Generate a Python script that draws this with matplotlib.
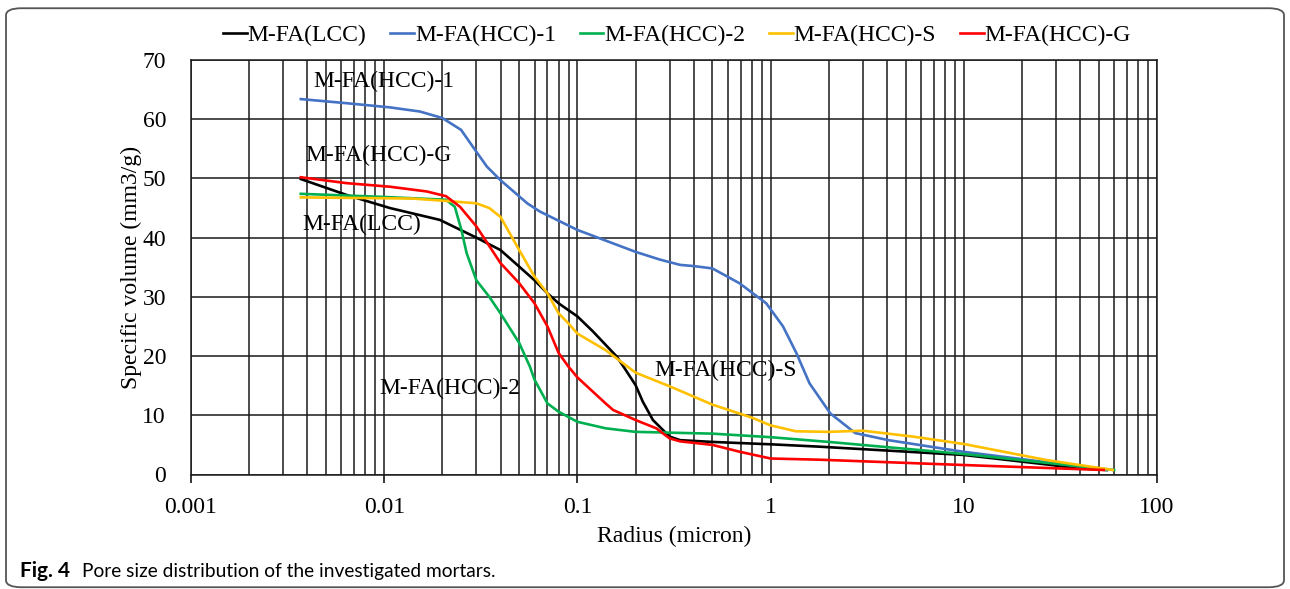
import matplotlib
matplotlib.use("Agg")
import matplotlib.pyplot as plt
from matplotlib.patches import FancyBboxPatch
from matplotlib.ticker import FixedLocator, FuncFormatter, NullFormatter

plt.rcParams['font.family'] = 'Liberation Serif'

# mercury intrusion results: radius (micron) vs cumulative specific volume (mm3/g)
r_lcc = [0.0037, 0.0064, 0.0107, 0.0194, 0.030, 0.040, 0.050, 0.060, 0.070, 0.080,
         0.100, 0.120, 0.160, 0.175, 0.200, 0.218, 0.246, 0.300, 0.340, 0.500,
         1.0, 1.79, 10, 40, 55]
v_lcc = [49.9, 47.2, 45.0, 43.0, 40.0, 37.9, 35.1, 32.8, 30.6, 28.9,
         26.7, 24.2, 19.9, 18.0, 15.1, 12.3, 9.2, 6.4, 5.8, 5.5,
         5.1, 4.7, 3.3, 1.05, 0.76]

r_hcc1 = [0.0037, 0.0064, 0.0107, 0.0153, 0.020, 0.025, 0.030, 0.034, 0.040, 0.055,
          0.064, 0.100, 0.200, 0.267, 0.34, 0.40, 0.50, 0.69, 0.95, 1.16, 1.36,
          1.59, 2.04, 2.74, 4.07, 9.9, 29.5, 55]
v_hcc1 = [63.4, 62.7, 62.0, 61.3, 60.2, 58.2, 54.5, 52.0, 49.7, 45.8,
          44.4, 41.3, 37.6, 36.3, 35.4, 35.2, 34.8, 32.3, 28.9, 25.0, 20.5,
          15.4, 10.3, 7.0, 5.8, 3.85, 1.9, 0.76]

r_hcc2 = [0.0037, 0.0095, 0.0209, 0.0232, 0.0251, 0.0267, 0.030, 0.035, 0.040, 0.050,
          0.0568, 0.060, 0.070, 0.080, 0.100, 0.14, 0.2, 0.5, 1.0, 2.0, 10, 60]
v_hcc2 = [47.4, 46.9, 46.4, 45.2, 41.3, 37.4, 32.8, 30.0, 27.2, 22.2,
          18.2, 16.0, 12.0, 10.6, 8.9, 7.8, 7.2, 6.9, 6.3, 5.5, 3.46, 0.76]

r_hccs = [0.0037, 0.014, 0.021, 0.030, 0.035, 0.040, 0.050, 0.060, 0.070, 0.080,
          0.090, 0.100, 0.14, 0.2, 0.3, 0.5, 0.8, 1.0, 1.35, 2.0, 3.0, 5.46,
          10, 26.7, 59]
v_hccs = [46.8, 46.6, 46.2, 45.8, 45.0, 43.5, 37.9, 33.4, 30.6, 27.2,
          25.5, 23.8, 21.0, 17.2, 14.9, 11.8, 9.6, 8.3, 7.3, 7.2, 7.4, 6.4,
          5.15, 2.45, 0.76]

r_hccg = [0.0037, 0.0064, 0.0107, 0.0166, 0.0209, 0.0247, 0.030, 0.040, 0.050, 0.060,
          0.070, 0.080, 0.090, 0.100, 0.14, 0.153, 0.2, 0.256, 0.3, 0.34, 0.5,
          0.69, 1.0, 1.79, 10, 53]
v_hccg = [50.2, 49.2, 48.6, 47.8, 47.0, 45.2, 41.9, 35.7, 32.3, 28.9,
          25.0, 20.5, 18.2, 16.4, 12.0, 10.9, 9.2, 7.8, 6.1, 5.6, 5.0,
          3.85, 2.7, 2.5, 1.6, 0.76]

names = ['M-FA(LCC)', 'M-FA(HCC)-1', 'M-FA(HCC)-2', 'M-FA(HCC)-S', 'M-FA(HCC)-G']
colors = ['#000000', '#4472C4', '#00B050', '#FFC000', '#FF0000']
curves = [(r_lcc, v_lcc), (r_hcc1, v_hcc1), (r_hcc2, v_hcc2),
          (r_hccs, v_hccs), (r_hccg, v_hccg)]

# curve labels written inside the plot
label_text = ['M-FA(HCC)-1', 'M-FA(HCC)-G', 'M-FA(LCC)', 'M-FA(HCC)-2', 'M-FA(HCC)-S']
label_x = [0.00428, 0.00389, 0.00375, 0.0094, 0.25]
label_y = [66.3, 53.8, 42.3, 14.6, 17.6]

fig = plt.figure(figsize=(12.9, 5.89), dpi=100)
ax = fig.add_axes([191 / 1290, 1 - 474.5 / 589, (1157 - 191) / 1290, (474.5 - 60) / 589])

for (r, v), name, c in zip(curves, names, colors):
    ax.plot(r, v, color=c, lw=1.9, label=name, zorder=3, solid_joinstyle='round')

for t, x, y in zip(label_text, label_x, label_y):
    ax.text(x, y, t, fontsize=17, va='center', ha='left', zorder=2)

ax.set_xscale('log')
ax.set_xlim(0.001, 100)
ax.set_ylim(0, 70)
ax.set_yticks(range(0, 71, 10))
ax.xaxis.set_major_locator(FixedLocator([0.001, 0.01, 0.1, 1, 10, 100]))
ax.xaxis.set_major_formatter(FuncFormatter(lambda x, p: f'{x:g}'))
ax.xaxis.set_minor_formatter(NullFormatter())
ax.grid(True, which='both', axis='x', color='#1a1a1a', lw=1.1)
ax.grid(True, which='major', axis='y', color='#1a1a1a', lw=1.1)
ax.set_axisbelow(True)
ax.tick_params(axis='x', which='major', length=6, width=1.1, pad=10, labelsize=17)
ax.tick_params(axis='x', which='minor', length=0)
ax.tick_params(axis='y', length=0, pad=18, labelsize=17)
for s in ax.spines.values():
    s.set_color('#1a1a1a')
    s.set_linewidth(1.1)

ax.set_xlabel('Radius (micron)', fontsize=17, labelpad=6)
ax.set_ylabel('Specific volume (mm3/g)', fontsize=17, labelpad=0)

ax.legend(loc='center', bbox_to_anchor=(677 / 1290, 1 - 35 / 589), bbox_transform=fig.transFigure,
          ncol=5, frameon=False, fontsize=17, handlelength=1.0, handletextpad=0.05,
          columnspacing=1.0, borderaxespad=0)

fig.text(20 / 1290, 1 - 571 / 589, 'Fig. 4', fontsize=15, fontweight='bold',
         family='Lato', va='center')
fig.text(82 / 1290, 1 - 571 / 589, 'Pore size distribution of the investigated mortars.',
         fontsize=13.8, family='Lato', va='center')

# rounded frame around the whole figure
fig.patches.append(FancyBboxPatch((6 / 1290, 0.003), 1 - 12 / 1290, 1 - 10 / 589,
                                  boxstyle='round,pad=0,rounding_size=0.012',
                                  transform=fig.transFigure, fill=False,
                                  edgecolor='#555555', lw=1.3))

fig.savefig('out.png', dpi=100)
